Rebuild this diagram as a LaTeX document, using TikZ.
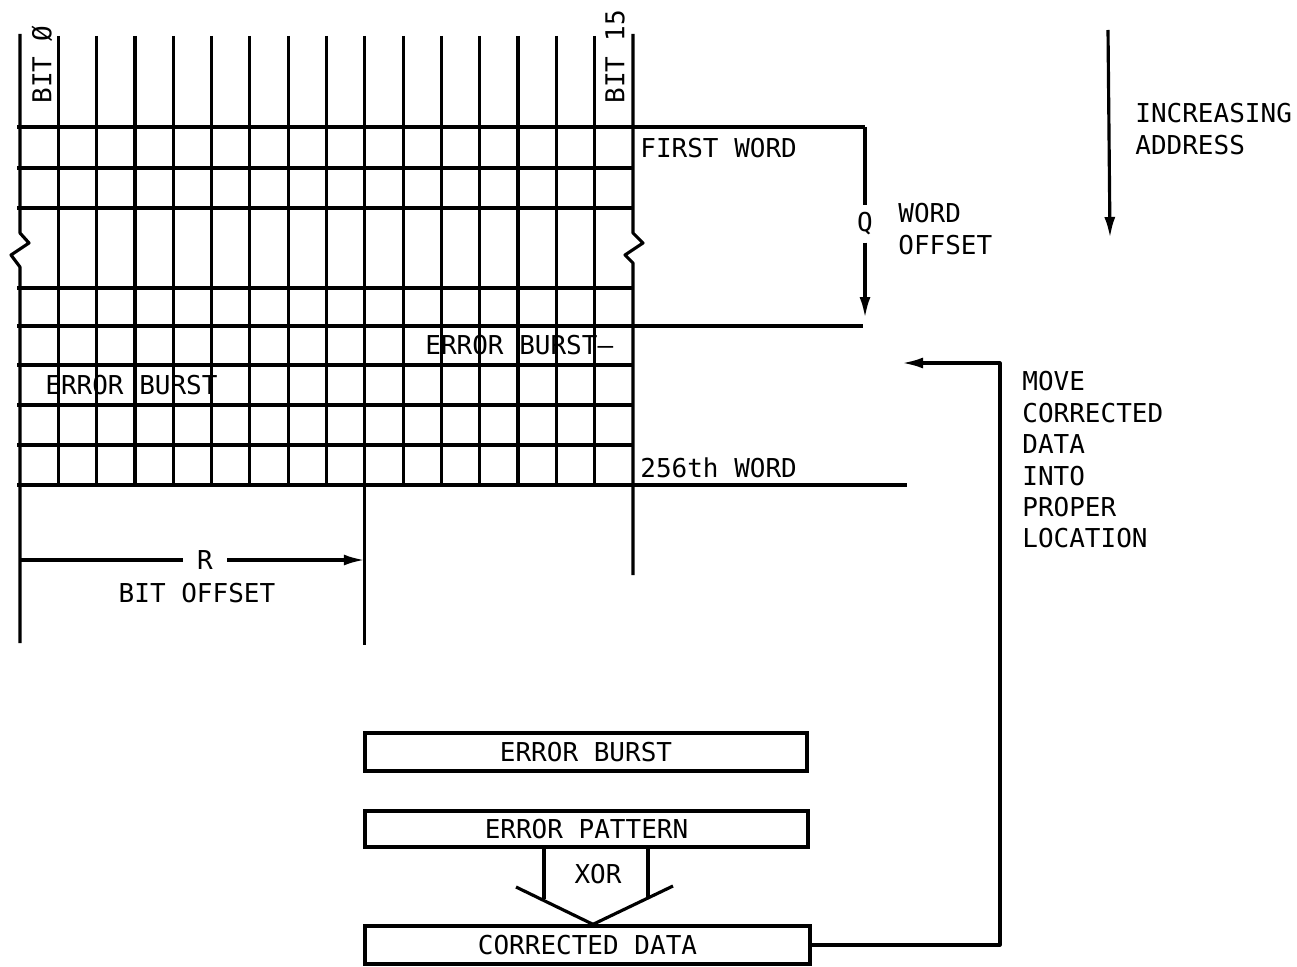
\documentclass[tikz,border=0pt]{standalone}
\usepackage{fontspec}
\newfontfamily\lettering{DejaVu Sans Mono}
\usetikzlibrary{arrows.meta}
\begin{document}
\begin{tikzpicture}[x=0.02cm,y=-0.02cm,
  ln/.style={line width=1.8pt,line join=round},
  lbl/.style={font=\lettering\fontsize{14.8}{17.9}\selectfont,inner sep=0pt},
  membox/.style={draw,line width=1.9pt,rectangle,inner sep=0pt,
     font=\lettering\fontsize{14.8}{17.9}\selectfont,minimum height=0.76cm},
  arr/.style={-{Latex[length=0.42cm,width=0.22cm]}}]
\useasboundingbox (0,0) rectangle (1297,966);

% ---- grid: vertical bit lines
\foreach \i in {1,...,8,10,11,12,13,14,15}
  \draw[ln] ({20+\i*38.3125},36) -- ({20+\i*38.3125},485);
\draw[ln] (364.8,36) -- (364.8,645);
\draw[ln] (20,34) -- (20,233) -- (29,243) -- (11,255) -- (20,267) -- (20,643);
\draw[ln] (633,34) -- (633,233) -- (643,243) -- (625,255) -- (633,263) -- (633,575);

% ---- grid: horizontal word lines
\foreach \y in {168,208,288,365,405,445}
  \draw[ln] (17,\y) -- (633,\y);
\draw[ln] (17,127) -- (865,127);
\draw[ln] (17,326) -- (863,326);
\draw[ln] (17,485) -- (907,485);

% ---- labels on the grid
\node[lbl,rotate=90,anchor=west] (bit0) at (42,104) {BIT Ø};
\node[lbl,rotate=90,anchor=west] (bit15) at (615,104) {BIT 15};
\node[lbl,anchor=west] (first) at (640,148) {FIRST WORD};
\node[lbl,anchor=west] (w256) at (640,468) {256th WORD};
\node[lbl,anchor=west] (eb1) at (45,385) {ERROR BURST};
\node[lbl,anchor=west] (eb2) at (425,345) {ERROR BURST–};

% ---- word offset
\coordinate (qtop) at (865,127);
\coordinate (qend) at (865,318);
\node[lbl,inner sep=4pt] (q) at (865,224) {Q};
\draw[ln] (qtop) -- (q.north);
\draw[ln,arr] (q.south) -- (qend);
\node[lbl,anchor=north west,align=left] (woff) at (898,203) {WORD\\OFFSET};

% ---- increasing address
\coordinate (iatop) at (1108,30);
\coordinate (iabot) at (1110,238);
\draw[ln,arr] (iatop) -- (iabot);
\node[lbl,anchor=north west,align=left] (incr) at (1135,103) {INCREASING\\ADDRESS};

% ---- bit offset
\coordinate (bl) at (20,560);
\coordinate (br) at (364.8,560);
\node[lbl,inner sep=8pt] (r) at (205,560) {R};
\draw[ln] (bl) -- (r.west);
\draw[ln,arr] (r.east) -- (br);
\node[lbl] (bitoff) at (197,593) {BIT OFFSET};

% ---- boxes
\node[membox,minimum width=8.84cm,minimum height=0.76cm] (box1) at (586,752) {ERROR BURST};
\node[membox,minimum width=8.86cm,minimum height=0.72cm] (box2) at (586.5,829) {ERROR PATTERN};
\node[membox,minimum width=8.90cm,minimum height=0.76cm] (box3) at (587.5,945) {CORRECTED DATA};

% ---- XOR
\node[lbl] (xor) at (598,874) {XOR};
\coordinate (xl) at (544,899);
\coordinate (xr) at (648,897);
\coordinate (vl) at (516,887);
\coordinate (vr) at (673,886);
\coordinate (xa) at (593,922);
\draw[ln] (xl |- box2.south) -- (xl);
\draw[ln] (xr |- box2.south) -- (xr);
\draw[ln] (vl) -- (xa |- box3.north) -- (vr);

% ---- move corrected data
\coordinate (mvturn) at (1000,363);
\coordinate (mvtip) at (902,363);
\draw[ln,arr] (box3.east) -| (mvturn) -- (mvtip);
\node[lbl,anchor=north west,align=left] (move) at (1022,371)
  {MOVE\\CORRECTED\\DATA\\INTO\\PROPER\\LOCATION};
\end{tikzpicture}
\end{document}
